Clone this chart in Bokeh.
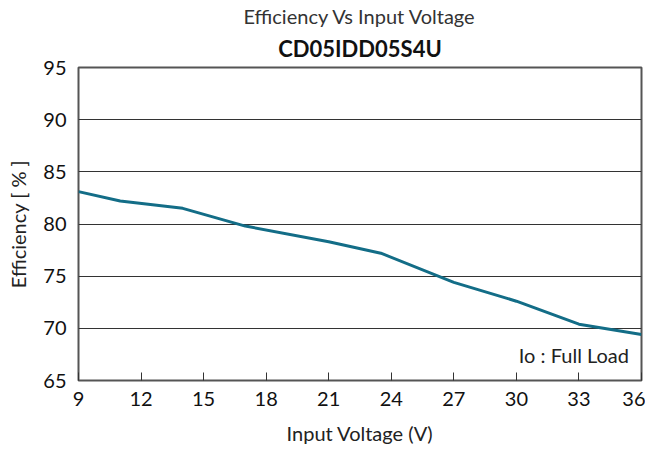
from bokeh.plotting import figure
from bokeh.models import Range1d, Title, Label, FixedTicker
from bokeh.embed import file_html
from bokeh.resources import INLINE

voltage = [9, 11, 14, 17, 21, 23.5, 27, 30, 33, 36]
efficiency = [83.1, 82.2, 81.5, 79.8, 78.3, 77.2, 74.4, 72.6, 70.4, 69.4]
x_ticks = [9, 12, 15, 18, 21, 24, 27, 30, 33, 36]
y_ticks = [65, 70, 75, 80, 85, 90, 95]

FONT = "Lato"

p = figure(frame_width=563, frame_height=313, output_backend="svg", toolbar_location=None,
           x_range=Range1d(9, 36), y_range=Range1d(65, 95),
           min_border_left=78, min_border_right=4, min_border_top=67, min_border_bottom=10)

p.title.text = "Efficiency Vs Input Voltage"
p.title.align = "center"
p.title.text_font = FONT
p.title.text_font_size = "20px"
p.title.text_font_style = "normal"
p.title.text_color = "#333333"
p.title.standoff = 0
p.add_layout(Title(text="CD05IDD05S4U", align="center", text_font=FONT,
                   text_font_size="22px", text_font_style="bold", text_color="#111111",
                   standoff=11), "above")

p.line(voltage, efficiency, line_color="#136d87", line_width=3)

p.outline_line_color = "#555555"
p.outline_line_width = 2
p.xgrid.grid_line_color = None
p.ygrid.grid_line_color = "#333333"
p.ygrid.grid_line_width = 1

p.xaxis.ticker = FixedTicker(ticks=x_ticks)
p.yaxis.ticker = FixedTicker(ticks=y_ticks)
for ax in (p.xaxis, p.yaxis):
    ax.axis_line_color = None
    ax.minor_tick_line_color = None
    ax.major_label_text_font = FONT
    ax.major_label_text_font_size = "20px"
    ax.major_label_text_color = "#111111"
    ax.axis_label_text_font = FONT
    ax.axis_label_text_font_size = "20px"
    ax.axis_label_text_font_style = "normal"
    ax.axis_label_text_color = "#222222"
p.xaxis.major_tick_in = 8
p.xaxis.major_tick_out = 0
p.xaxis.major_tick_line_color = "#333333"
p.xaxis.major_label_standoff = 11
p.xaxis.axis_label = "Input Voltage (V)"
p.xaxis.axis_label_standoff = 12
p.yaxis.major_tick_in = 0
p.yaxis.major_tick_out = 0
p.yaxis.major_label_standoff = 12
p.yaxis.axis_label = "Efficiency [ % ]"
p.yaxis.axis_label_standoff = 10

p.add_layout(Label(x=35.4, y=66.3, text="Io : Full Load", text_align="right", text_baseline="bottom",
                   text_font=FONT, text_font_size="20px", text_color="#222222"))

open("out.html", "w").write(file_html(p, INLINE))
